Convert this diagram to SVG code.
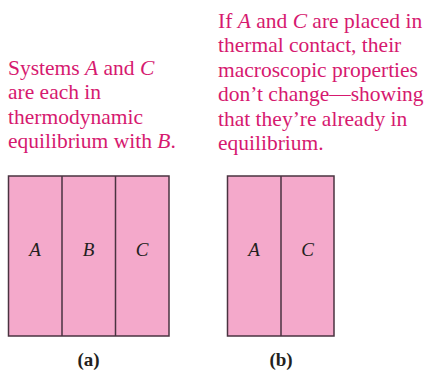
<svg xmlns="http://www.w3.org/2000/svg" width="424" height="371" viewBox="0 0 424 371">
<style>
.cap{font-family:"Liberation Serif","Times New Roman",serif;font-size:21.5px;fill:#d6196f}
.box{fill:#f4a9cb;stroke:#4a3340;stroke-width:1.5}
.div{stroke:#4a3340;stroke-width:1.5}
.lbl{font-family:"Liberation Serif","Times New Roman",serif;font-size:19px;font-style:italic;fill:#231f20;text-anchor:middle}
.sub{font-family:"Liberation Serif","Times New Roman",serif;font-size:19px;font-weight:bold;fill:#231f20;text-anchor:middle}
</style>
<rect width="424" height="371" fill="#ffffff"/>
<g id="caption-a">
<text class="cap" x="8" y="75">Systems <tspan font-style="italic">A</tspan> and <tspan font-style="italic">C</tspan></text>
<text class="cap" x="8" y="99.3">are each in</text>
<text class="cap" x="8" y="123.6">thermodynamic</text>
<text class="cap" x="8" y="148">equilibrium with <tspan font-style="italic">B</tspan>.</text>
</g>
<g id="caption-b">
<text class="cap" x="218" y="28">If <tspan font-style="italic">A</tspan> and <tspan font-style="italic">C</tspan> are placed in</text>
<text class="cap" x="218" y="52.4">thermal contact, their</text>
<text class="cap" x="218" y="76.8">macroscopic properties</text>
<text class="cap" x="218" y="101.2">don’t change—showing</text>
<text class="cap" x="218" y="125.6">that they’re already in</text>
<text class="cap" x="218" y="150">equilibrium.</text>
</g>
<g id="diagram-a">
<rect class="box" x="8.5" y="176" width="160.5" height="160"/>
<line class="div" x1="62" y1="176" x2="62" y2="336"/>
<line class="div" x1="115.5" y1="176" x2="115.5" y2="336"/>
<text class="lbl" x="35" y="256">A</text>
<text class="lbl" x="88.5" y="256">B</text>
<text class="lbl" x="142" y="256">C</text>
<text class="sub" x="88.5" y="366">(a)</text>
</g>
<g id="diagram-b">
<rect class="box" x="227.5" y="176" width="106.5" height="160"/>
<line class="div" x1="281" y1="176" x2="281" y2="336"/>
<text class="lbl" x="254" y="256">A</text>
<text class="lbl" x="307.5" y="256">C</text>
<text class="sub" x="281" y="366">(b)</text>
</g>
</svg>
